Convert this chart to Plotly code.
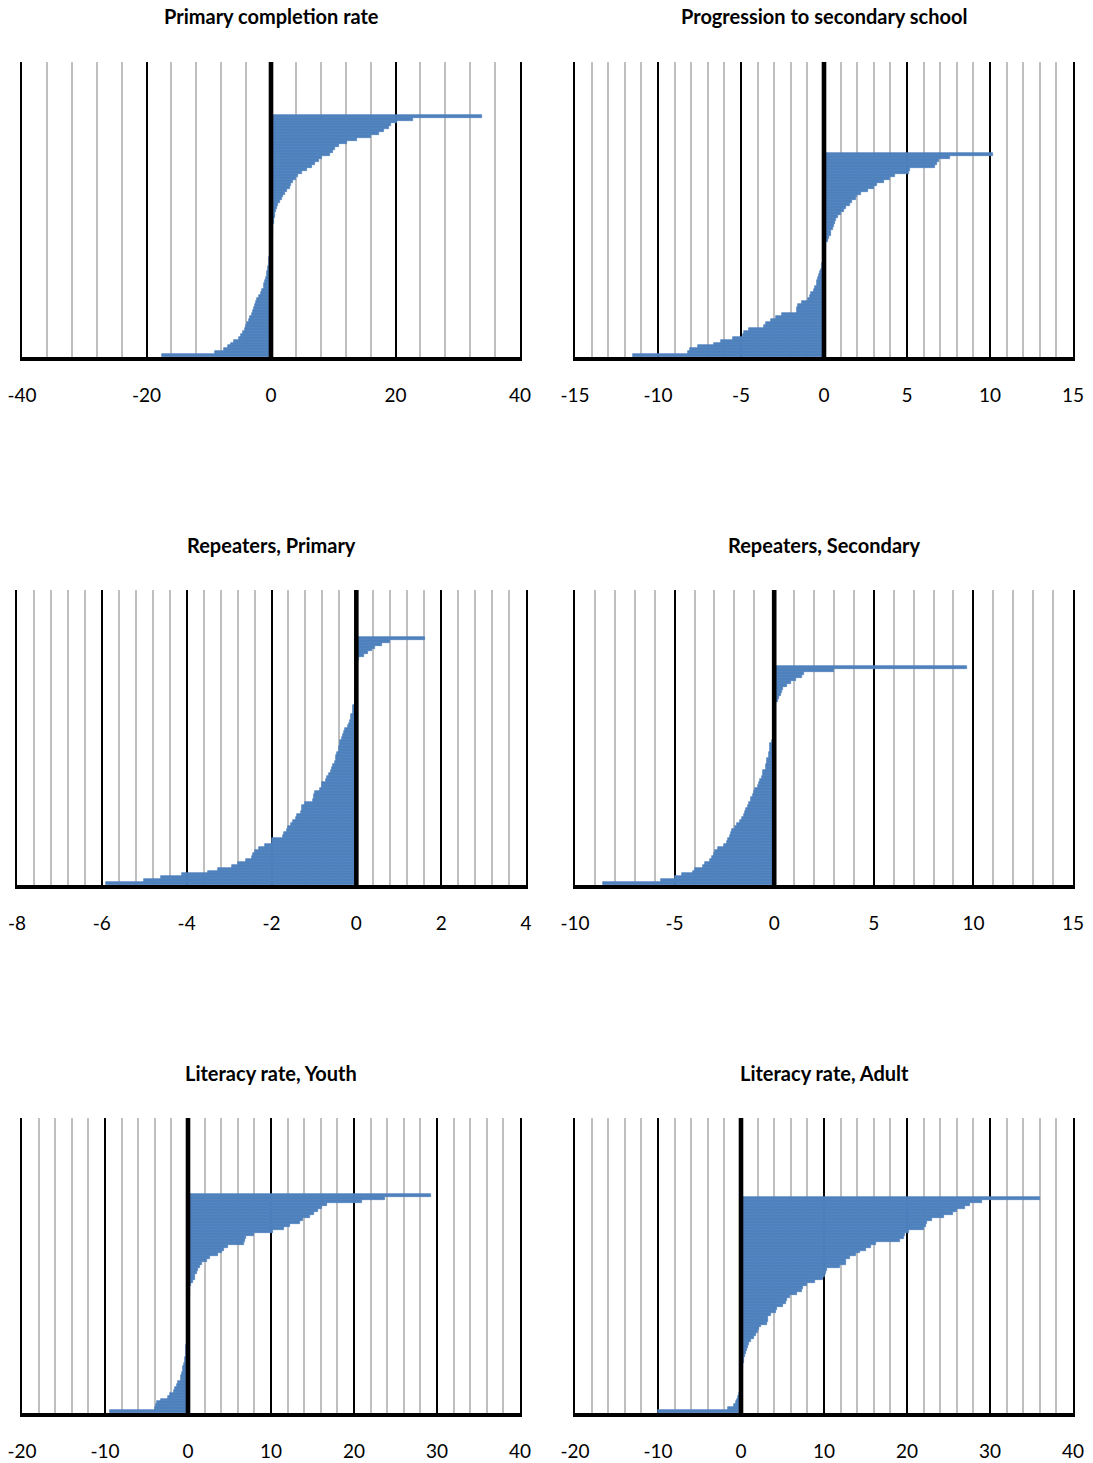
import plotly.graph_objects as go

W, H = 1093, 1463

titles = ["Primary completion rate", "Progression to secondary school",
          "Repeaters, Primary", "Repeaters, Secondary",
          "Literacy rate, Youth", "Literacy rate, Adult"]

# sorted country changes, bottom bar first
primary_completion = [-17.5, -9.0, -7.5, -6.9, -6.4, -5.9, -5.2, -4.8, -4.5, -4.2, -4.0, -3.8, -3.6, -3.3,
                      -3.1, -2.9, -2.75, -2.6, -2.4, -2.2, -1.9, -1.6, -1.4, -1.2, -1.05, -0.95, -0.8, -0.65,
                      -0.58, -0.53, -0.45, -0.35, -0.3, -0.25, -0.15, -0.1, -0.05, 0.0, 0.08, 0.15, 0.2, 0.25,
                      0.3, 0.35, 0.4, 0.5, 0.55, 0.65, 0.7, 0.8, 0.95, 1.2, 1.4, 1.7, 2.0, 2.3, 2.5, 3.0, 3.2,
                      3.6, 4.0, 4.4, 5.0, 5.8, 6.6, 7.0, 7.7, 8.2, 9.5, 10.0, 10.3, 10.9, 12.2, 13.8, 16.0,
                      17.3, 18.1, 19.0, 19.2, 20.2, 22.8, 33.9]

progression_secondary = [-11.5, -8.2, -8.1, -7.6, -6.6, -6.2, -5.5, -4.9, -4.8, -4.5, -3.6, -3.5, -3.2, -2.9,
                         -2.55, -1.65, -1.6, -1.55, -1.3, -0.95, -0.85, -0.8, -0.6, -0.55, -0.45, -0.4, -0.35,
                         -0.3, -0.25, -0.2, -0.15, -0.1, -0.05, -0.02, 0.0, 0.02, 0.05, 0.1, 0.15, 0.25, 0.3,
                         0.4, 0.45, 0.55, 0.6, 0.65, 0.75, 0.85, 1.0, 1.2, 1.35, 1.55, 1.7, 1.95, 2.0, 2.2,
                         2.65, 3.0, 3.2, 3.6, 4.0, 4.3, 5.1, 5.2, 6.7, 6.8, 6.9, 7.6, 10.2]

repeaters_primary = [-5.9, -5.0, -4.6, -4.1, -3.5, -3.25, -2.94, -2.78, -2.59, -2.45, -2.43, -2.4, -2.3, -2.15,
                     -2.0, -2.0, -1.72, -1.7, -1.64, -1.6, -1.55, -1.5, -1.43, -1.4, -1.3, -1.29, -1.28, -1.2,
                     -1.02, -1.0, -1.0, -0.97, -0.85, -0.82, -0.8, -0.72, -0.7, -0.65, -0.6, -0.58, -0.56,
                     -0.5, -0.48, -0.47, -0.46, -0.42, -0.4, -0.39, -0.38, -0.34, -0.32, -0.3, -0.26, -0.2,
                     -0.17, -0.15, -0.13, -0.12, -0.08, -0.07, -0.07, -0.04, -0.03, -0.02, -0.02, -0.01,
                     -0.01, 0.0, 0.0, 0.0, 0.0, 0.01, 0.01, 0.01, 0.02, 0.03, 0.06, 0.19, 0.28, 0.38, 0.44,
                     0.61, 0.8, 1.62]

repeaters_secondary = [-8.6, -5.66, -5.0, -4.65, -4.07, -3.98, -3.55, -3.48, -3.2, -3.1, -3.0, -2.98, -2.81,
                       -2.5, -2.35, -2.31, -2.2, -2.15, -2.14, -1.95, -1.89, -1.7, -1.64, -1.5, -1.47, -1.4,
                       -1.3, -1.25, -1.18, -1.14, -1.05, -1.0, -0.97, -0.8, -0.75, -0.72, -0.6, -0.56, -0.55,
                       -0.42, -0.4, -0.38, -0.38, -0.28, -0.25, -0.23, -0.22, -0.22, -0.1, -0.08, -0.07,
                       -0.05, -0.04, -0.03, -0.02, -0.01, 0.0, 0.0, 0.01, 0.02, 0.05, 0.1, 0.2, 0.22, 0.33,
                       0.38, 0.45, 0.62, 0.85, 1.1, 1.4, 1.5, 3.0, 9.7]

literacy_youth = [-9.4, -4.0, -3.9, -3.7, -3.2, -2.4, -2.2, -1.7, -1.6, -1.3, -1.2, -0.9, -0.8, -0.7, -0.6,
                  -0.55, -0.45, -0.4, -0.4, -0.3, -0.25, -0.2, -0.2, -0.15, -0.1, -0.1, -0.05, -0.05, 0.0,
                  0.0, 0.0, 0.0, 0.0, 0.05, 0.05, 0.1, 0.1, 0.1, 0.15, 0.15, 0.2, 0.2, 0.25, 0.4, 0.6, 0.8,
                  0.9, 1.1, 1.25, 1.4, 1.7, 2.3, 2.7, 3.6, 4.1, 4.3, 4.8, 6.7, 6.9, 7.0, 8.0, 10.2, 11.6,
                  12.3, 13.5, 13.9, 14.7, 15.2, 15.7, 16.1, 16.8, 21.0, 23.7, 29.3]

literacy_adult = [-10.0, -1.6, -0.9, -0.55, -0.5, -0.35, -0.3, -0.15, -0.05, 0.0, 0.03, 0.05, 0.08, 0.1,
                  0.15, 0.2, 0.25, 0.35, 0.4, 0.5, 0.6, 0.7, 0.8, 1.0, 1.2, 1.6, 1.8, 2.0, 2.2, 2.4, 3.1,
                  3.2, 3.3, 3.6, 4.2, 4.3, 5.1, 5.4, 5.5, 5.9, 6.7, 7.4, 7.5, 7.9, 8.9, 9.9, 10.1, 10.2,
                  10.4, 11.9, 12.6, 12.7, 13.1, 13.9, 14.3, 15.1, 15.7, 16.3, 19.2, 19.6, 19.8, 20.3, 22.0,
                  22.3, 22.4, 23.0, 24.4, 25.6, 26.0, 27.0, 27.6, 29.0, 36.0]

series = [primary_completion, progression_secondary, repeaters_primary,
          repeaters_secondary, literacy_youth, literacy_adult]

# axis tick labels per panel
tick_values = [[-40, -20, 0, 20, 40],
               [-15, -10, -5, 0, 5, 10, 15],
               [-8, -6, -4, -2, 0, 2, 4],
               [-10, -5, 0, 5, 10, 15],
               [-20, -10, 0, 10, 20, 30, 40],
               [-20, -10, 0, 10, 20, 30, 40]]
minor_step = [4, 1, 0.4, 1, 2, 2]

# layout geometry (pixels)
col_px = [(22, 520), (575, 1073), (17, 526), (575, 1073), (22, 520), (575, 1073)]
row_px = [(62, 357.3), (590, 885.3), (1118, 1413.3)]
title_y_px = [16, 545, 1073]
slot_px = 2.96

BLUE = "#4F81BD"
FONT = "Lato"

fig = go.Figure()
layout = dict(width=W, height=H, margin=dict(l=0, r=0, t=0, b=0, pad=0),
              paper_bgcolor="white", plot_bgcolor="white", showlegend=False,
              bargap=0, annotations=[], shapes=[], template="none")

for i, vals in enumerate(series):
    r = i // 2
    n = i + 1
    xa = "x" if n == 1 else f"x{n}"
    ya = "y" if n == 1 else f"y{n}"
    top, bot = row_px[r]
    left, right = col_px[i]
    tv = tick_values[i]
    fig.add_trace(go.Bar(
        x=vals, y=list(range(len(vals))), orientation="h", width=1,
        marker=dict(color=BLUE, line=dict(color=BLUE, width=0.7)),
        xaxis=xa, yaxis=ya, hoverinfo="x"))
    y_top = (bot - top) / slot_px - 0.5
    layout[f"xaxis{'' if n == 1 else n}"] = dict(
        domain=[left / W, right / W], anchor=ya, range=[tv[0], tv[-1]],
        automargin=False,
        tickmode="array", tickvals=tv, ticktext=[f"{v:g}" for v in tv],
        showgrid=True, gridcolor="black", gridwidth=1.5,
        minor=dict(tickmode="linear", tick0=0, dtick=minor_step[i], showgrid=True,
                   gridcolor="#BFBFBF", gridwidth=2, ticks=""),
        zeroline=False, showline=True, linecolor="black", linewidth=4.3,
        ticks="", ticklabelstandoff=18,
        tickfont=dict(family=FONT, size=19, color="black"), fixedrange=True)
    layout[f"yaxis{'' if n == 1 else n}"] = dict(
        domain=[1 - bot / H, 1 - top / H], anchor=xa, range=[-0.5, y_top],
        automargin=False,
        showticklabels=False, showgrid=False, zeroline=False, ticks="",
        showline=True, mirror=True, linecolor="black", linewidth=1.5,
        fixedrange=True)
    layout["shapes"].append(dict(
        type="line", xref=xa, yref=f"{ya} domain", x0=0, x1=0, y0=0, y1=1,
        line=dict(color="black", width=4.6), layer="above"))
    layout["annotations"].append(dict(
        text=f"<b>{titles[i]}</b>", xref="paper", yref="paper",
        x=(left + right) / 2 / W, y=1 - title_y_px[r] / H,
        xanchor="center", yanchor="middle", showarrow=False,
        font=dict(family=FONT, size=20, color="black")))

fig.update_layout(**layout)
fig.write_html("out.html")
